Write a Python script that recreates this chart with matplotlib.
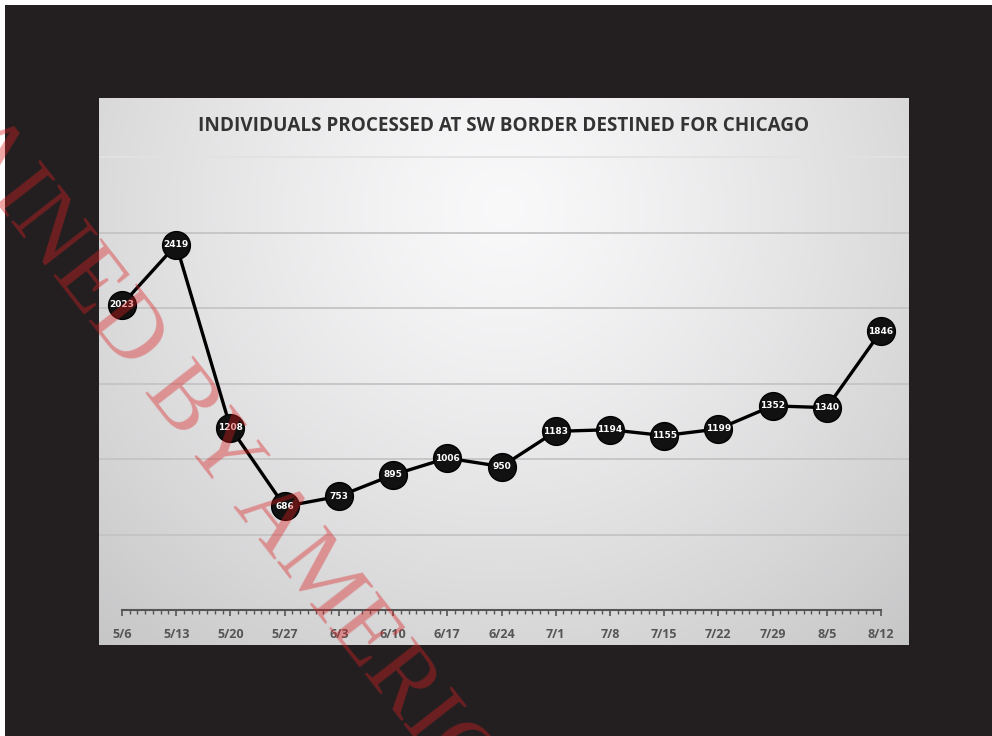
import numpy as np
import pandas as pd
import matplotlib
matplotlib.use("Agg")
import matplotlib.pyplot as plt
import matplotlib.dates as mdates
from matplotlib.patches import Rectangle
from matplotlib.ticker import FixedLocator, NullFormatter

# data
week_labels = ["5/6", "5/13", "5/20", "5/27", "6/3", "6/10", "6/17", "6/24",
               "7/1", "7/8", "7/15", "7/22", "7/29", "8/5", "8/12"]
counts = [2023, 2419, 1208, 686, 753, 895, 1006, 950,
          1183, 1194, 1155, 1199, 1352, 1340, 1846]
grid_values = [500, 1000, 1500, 2000, 2500, 3000]

dates = pd.date_range("2023-05-06", periods=len(counts), freq="7D")
x = mdates.date2num(dates)
days = mdates.date2num(pd.date_range(dates[0], dates[-1], freq="D"))

W, H = 992, 736
fig = plt.figure(figsize=(W / 100, H / 100), dpi=100)
fig.patch.set_facecolor("white")

# dark surround
fig.patches.append(Rectangle((5 / W, 0), 1, 1 - 5 / H, transform=fig.transFigure,
                             facecolor="#231f20", edgecolor="none", zorder=-5))

# chart panel
px0, px1, py0, py1 = 99, 909, 98, 645
ax = fig.add_axes([px0 / W, 1 - py1 / H, (px1 - px0) / W, (py1 - py0) / H])

# soft radial background
gx, gy = np.meshgrid(np.linspace(0, 1, 300), np.linspace(0, 1, 200))
r = np.sqrt(((gx - 0.5) / 0.75) ** 2 + ((gy - 0.8) / 1.1) ** 2)
shade = np.clip(0.975 - 0.2 * r ** 1.3, 0, 1)
ax.imshow(np.dstack([shade, shade, shade + 0.005]).clip(0, 1), extent=[0, 1, 0, 1],
          transform=ax.transAxes, origin="lower", aspect="auto", zorder=0)

# scale: 7.745 px per day, 0.151 px per count
ax.set_xlim(x[0] - 23 / 7.745, x[-1] + 28 / 7.745)
ax.set_ylim(-(py1 - 610) / 0.151, (610 - py0) / 0.151)

for gv in grid_values:
    ax.axhline(gv, color="#c4c4c4" if gv < 3000 else "#e2e2e2", lw=1.3, zorder=1)

ax.plot(x, counts, color="black", lw=2.4, marker="o", markersize=20,
        markerfacecolor="#111111", markeredgecolor="#000000", zorder=3)
for xi, v in zip(x, counts):
    ax.text(xi, v, str(v), color="white", fontsize=6.5, fontweight="bold",
            ha="center", va="center", zorder=4)

for s in ["top", "right", "left"]:
    ax.spines[s].set_visible(False)
ax.spines["bottom"].set_position(("data", 0))
ax.spines["bottom"].set_bounds(x[0], x[-1])
ax.spines["bottom"].set_color("#555555")
ax.spines["bottom"].set_linewidth(1.5)
ax.set_yticks([])
ax.xaxis.set_major_locator(FixedLocator(x))
ax.set_xticklabels(week_labels)
ax.xaxis.set_minor_locator(FixedLocator(days))
ax.xaxis.set_minor_formatter(NullFormatter())
ax.tick_params(axis="x", which="major", length=4, width=1.2, color="#555555",
               labelsize=9, labelcolor="#555555", pad=9)
ax.tick_params(axis="x", which="minor", length=3, width=1, color="#555555")
for lab in ax.get_xticklabels():
    lab.set_fontweight("bold")
    lab.set_family("Open Sans")

ax.text(0.5, 1 - (126 - py0) / (py1 - py0),
        "INDIVIDUALS PROCESSED AT SW BORDER DESTINED FOR CHICAGO",
        transform=ax.transAxes, fontsize=13.6, fontweight="bold", color="#333333",
        family="Open Sans", ha="center", va="center", zorder=5)

# watermark
fig.text(379 / W, 1 - 657 / H, "OBTAINED BY AMERICAN OVERSIGHT",
         family="Liberation Serif", fontsize=68, color="#dc2020", alpha=0.4,
         rotation=-52, rotation_mode="anchor", ha="center", va="center", zorder=10)

fig.savefig("out.png", dpi=100)
